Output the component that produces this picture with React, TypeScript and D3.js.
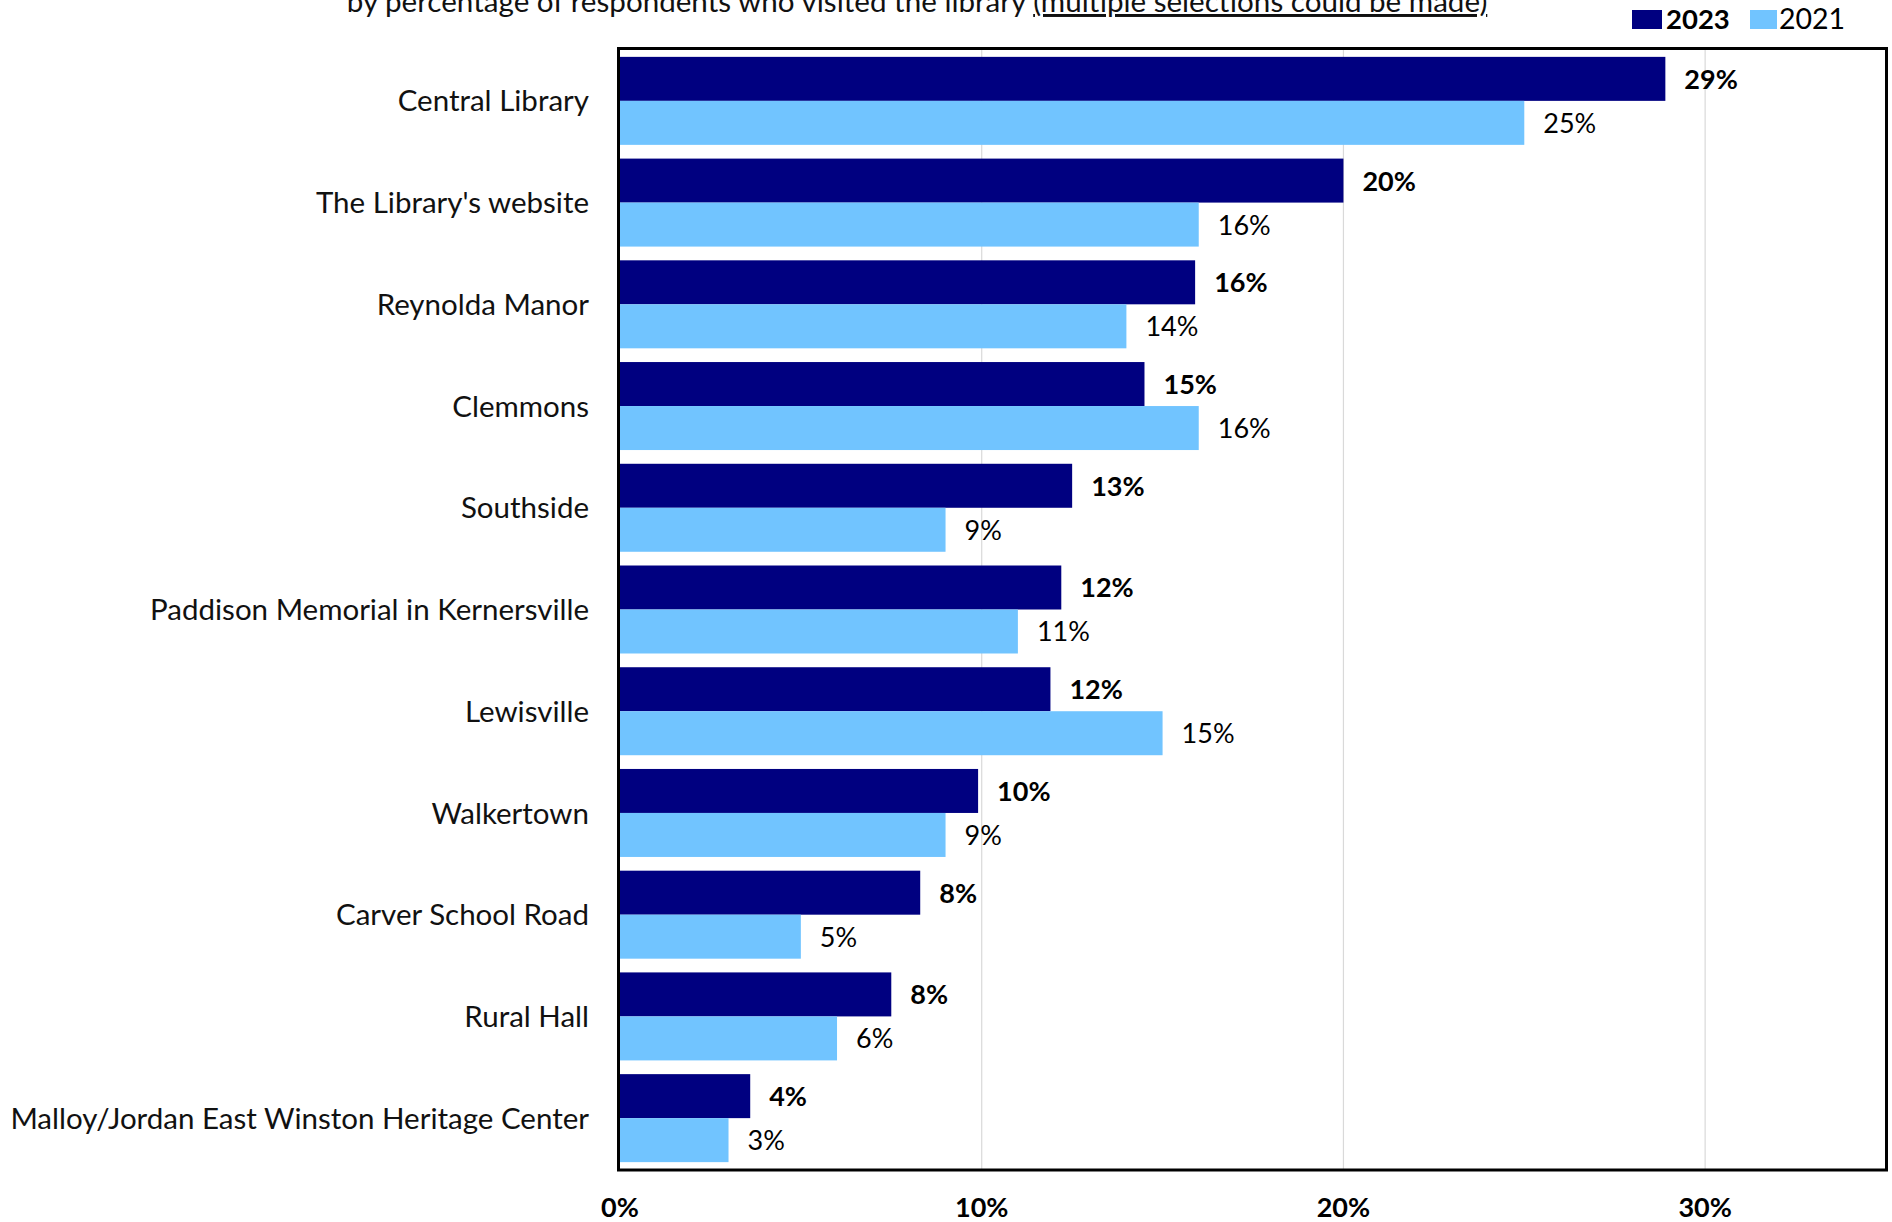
import React from "react";
import * as d3 from "d3";

const categories = [
  "Central Library",
  "The Library's website",
  "Reynolda Manor",
  "Clemmons",
  "Southside",
  "Paddison Memorial in Kernersville",
  "Lewisville",
  "Walkertown",
  "Carver School Road",
  "Rural Hall",
  "Malloy/Jordan East Winston Heritage Center",
];
const values2023 = [28.9, 20.0, 15.9, 14.5, 12.5, 12.2, 11.9, 9.9, 8.3, 7.5, 3.6];
const values2021 = [25.0, 16.0, 14.0, 16.0, 9.0, 11.0, 15.0, 9.0, 5.0, 6.0, 3.0];
const labels2023 = ["29%", "20%", "16%", "15%", "13%", "12%", "12%", "10%", "8%", "8%", "4%"];
const labels2021 = ["25%", "16%", "14%", "16%", "9%", "11%", "15%", "9%", "5%", "6%", "3%"];
const seriesNames = ["2023", "2021"];
const xTicks = [0, 10, 20, 30];
const titleMain = "by percentage of respondents who visited the library ";
const titleUnderlined = "(multiple selections could be made)";

const COLORS = ["#000080", "#71C4FF"];
const FONT = "Lato, 'Open Sans', sans-serif";

export default function App() {
  const W = 1892;
  const H = 1222;
  const plotL = 620;
  const plotR = 1886;
  const plotT = 50;
  const plotB = 1169;

  const x = d3.scaleLinear().domain([0, 35]).range([plotL, plotR]);
  const y = d3
    .scaleBand<string>()
    .domain(categories)
    .range([plotT, plotB])
    .paddingInner(0.135)
    .paddingOuter(0.0675);
  const inner = d3.scaleBand<string>().domain(seriesNames).range([0, y.bandwidth()]);

  const series = [
    { name: seriesNames[0], values: values2023, labels: labels2023, bold: true },
    { name: seriesNames[1], values: values2021, labels: labels2021, bold: false },
  ];

  return (
    <div style={{ position: "absolute", left: 0, top: 0 }}>
      <svg width={W} height={H} style={{ display: "block", background: "#fff" }} fontFamily={FONT}>
        <rect x={0} y={0} width={W} height={H} fill="#fff" />
        {/* title (cut off at top, as in the source) */}
        <text x={917} y={12} textAnchor="middle" fontSize={29.6} fill="#111">
          {titleMain}
          <tspan textDecoration="underline">{titleUnderlined}</tspan>
        </text>
        {/* legend */}
        <rect x={1632} y={10} width={30} height={19} fill={COLORS[0]} />
        <text x={1666} y={29} fontSize={27.5} fontWeight="bold" fill="#000">
          {seriesNames[0]}
        </text>
        <rect x={1750} y={10} width={27} height={19} fill={COLORS[1]} />
        <text x={1779} y={29} fontSize={28.5} fill="#000">
          {seriesNames[1]}
        </text>
        {/* gridlines */}
        {xTicks.slice(1).map((t) => (
          <line key={t} x1={x(t)} x2={x(t)} y1={plotT} y2={plotB} stroke="#d9d9d9" strokeWidth={1.2} />
        ))}
        {/* bars */}
        {categories.map((c, i) => (
          <g key={c}>
            {series.map((s) => {
              const by = (y(c) as number) + (inner(s.name) as number);
              const bh = inner.bandwidth();
              return (
                <g key={s.name}>
                  <rect
                    x={x(0)}
                    y={by}
                    width={x(s.values[i]) - x(0)}
                    height={bh}
                    fill={s.name === seriesNames[0] ? COLORS[0] : COLORS[1]}
                  />
                  <text
                    x={x(s.values[i]) + 19}
                    y={by + bh / 2}
                    dy="0.37em"
                    fontSize={27}
                    fontWeight={s.bold ? "bold" : "normal"}
                    fill="#000"
                  >
                    {s.labels[i]}
                  </text>
                </g>
              );
            })}
            <text
              x={589}
              y={(y(c) as number) + y.bandwidth() / 2}
              dy="0.36em"
              textAnchor="end"
              fontSize={29.5}
              fill="#111"
            >
              {c}
            </text>
          </g>
        ))}
        {/* frame */}
        <rect x={618.5} y={48.5} width={1268} height={1121.5} fill="none" stroke="#000" strokeWidth={3} />
        {/* x tick labels */}
        {xTicks.map((t) => (
          <text key={t} x={x(t)} y={1217} textAnchor="middle" fontSize={27} fontWeight="bold" fill="#000">
            {t + "%"}
          </text>
        ))}
      </svg>
    </div>
  );
}
